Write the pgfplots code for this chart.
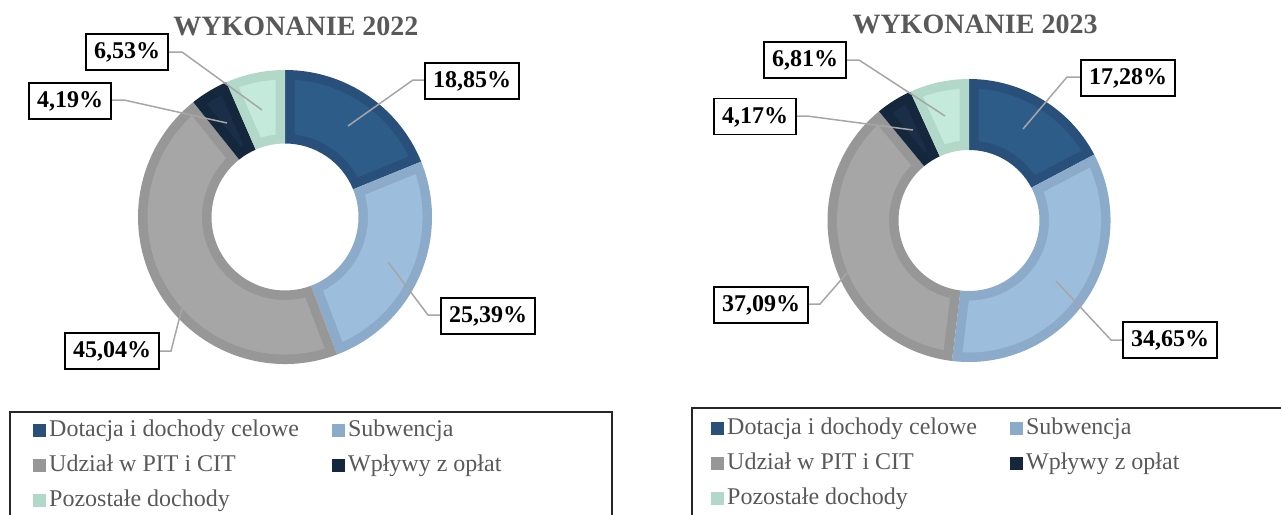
\documentclass[border=0pt]{standalone}
\usepackage{fontspec}
\setmainfont{Liberation Serif}
\usepackage{pgfplots}
\usepackage{pgfplotstable}
\pgfplotsset{compat=1.18}

\definecolor{dotA}{HTML}{2E5C89}\definecolor{dotB}{HTML}{29507A}
\definecolor{subA}{HTML}{9DBDDC}\definecolor{subB}{HTML}{8CAAC9}
\definecolor{pitA}{HTML}{A6A6A6}\definecolor{pitB}{HTML}{979797}
\definecolor{oplA}{HTML}{1B2E47}\definecolor{oplB}{HTML}{15273D}
\definecolor{pozA}{HTML}{C4EADB}\definecolor{pozB}{HTML}{B2D8C9}
\definecolor{txtgray}{HTML}{595959}
\definecolor{leader}{HTML}{A6A6A6}

% shares in percent, slice fill, slice border
\pgfplotstableread{
share fill border
18.85 dotA dotB
25.39 subA subB
45.04 pitA pitB
4.19  oplA oplB
6.53  pozA pozB
}\dochodyA
\pgfplotstableread{
share fill border
17.28 dotA dotB
34.65 subA subB
37.09 pitA pitB
4.17  oplA oplB
6.81  pozA pozB
}\dochodyB

\newcommand\lblfont{\fontsize{24pt}{28pt}\selectfont\bfseries}
\newcommand\titlefont{\fontsize{28pt}{32pt}\selectfont\bfseries}
\newcommand\legfont{\fontsize{24pt}{28pt}\selectfont}
\def\bw{9.5}

% start/end angles of each slice, clockwise from 12 o'clock
\newcommand\prepdonut[2]{%
  \pgfplotstablegetrowsof{#1}%
  \pgfmathtruncatemacro\lastrow{\pgfplotsretval-1}%
  \xdef\cumsum{0}%
  \foreach \i in {0,...,\lastrow}{%
    \pgfplotstablegetelem{\i}{share}\of{#1}%
    \pgfmathsetmacro\tmpS{90-3.6*\cumsum}%
    \pgfmathsetmacro\tmpC{\cumsum+\pgfplotsretval}%
    \pgfmathsetmacro\tmpE{90-3.6*\tmpC}%
    \xdef\cumsum{\tmpC}%
    \expandafter\xdef\csname #2S\i\endcsname{\tmpS}%
    \expandafter\xdef\csname #2E\i\endcsname{\tmpE}%
    \pgfplotstablegetelem{\i}{fill}\of{#1}%
    \expandafter\xdef\csname #2F\i\endcsname{\pgfplotsretval}%
    \pgfplotstablegetelem{\i}{border}\of{#1}%
    \expandafter\xdef\csname #2B\i\endcsname{\pgfplotsretval}%
  }}

% #1 tag, #2 row, #3 centre, #4 outer radius, #5 inner radius
\newcommand\drawslice[5]{%
  \edef\sA{\csname #1S#2\endcsname}%
  \edef\sE{\csname #1E#2\endcsname}%
  \edef\sF{\csname #1F#2\endcsname}%
  \edef\sB{\csname #1B#2\endcsname}%
  \fill[fill=\sB] ([shift={(\sA:#4pt)}]#3) arc[start angle=\sA, end angle=\sE, radius=#4pt]
    -- ([shift={(\sE:#5pt)}]#3) arc[start angle=\sE, end angle=\sA, radius=#5pt] -- cycle;
  \pgfmathsetmacro\Ro{#4-\bw}%
  \pgfmathsetmacro\Ri{#5+\bw}%
  \pgfmathsetmacro\oS{\sA-asin(\bw/\Ro)}%
  \pgfmathsetmacro\oE{\sE+asin(\bw/\Ro)}%
  \pgfmathsetmacro\iS{\sA-asin(\bw/\Ri)}%
  \pgfmathsetmacro\iE{\sE+asin(\bw/\Ri)}%
  \fill[fill=\sF] ([shift={(\oS:\Ro pt)}]#3) arc[start angle=\oS, end angle=\oE, radius=\Ro pt]
    -- ([shift={(\iE:\Ri pt)}]#3) arc[start angle=\iE, end angle=\iS, radius=\Ri pt] -- cycle;
}

\pgfplotsset{
  donut/.style={
    hide axis, clip=false, x=1pt, y=1pt, y dir=reverse, ymin=0, ymax=514,
    anchor=north west,
    legend columns=2,
    legend image code/.code={\path[##1,draw=none] (0pt,-6.5pt) rectangle (13pt,6.5pt);},
    legend style={draw=none, fill=none, inner sep=0pt, font=\legfont, text=txtgray,
      cells={anchor=west}, row sep=13pt,
      nodes={inner xsep=3pt, inner ysep=0pt, text height=17pt, text depth=5pt},
      /tikz/every even column/.append style={column sep=30pt}},
  },
}
\tikzset{
  lbl/.style={draw=black, line width=1.6pt, fill=white, font=\lblfont, inner xsep=8pt,
    minimum height=36pt, text height=17pt, text depth=4pt},
  ldr/.style={draw=leader, line width=1.5pt},
}

\prepdonut{\dochodyA}{A}
\prepdonut{\dochodyB}{B}

\begin{document}
\begin{tikzpicture}
\path[use as bounding box] (0,0) rectangle (1281pt,514pt);

\begin{axis}[donut, at={(0pt,514pt)}, xmin=0, xmax=640,
  legend style={at={(0.0516,0.1848)}, anchor=north west}]
  \pgfplotsextra{\drawslice{A}{0}{axis cs:285,217}{147}{73.5}%
    \drawslice{A}{1}{axis cs:285,217}{147}{73.5}%
    \drawslice{A}{2}{axis cs:285,217}{147}{73.5}%
    \drawslice{A}{3}{axis cs:285,217}{147}{73.5}%
    \drawslice{A}{4}{axis cs:285,217}{147}{73.5}}
  \node[font=\titlefont, text=txtgray] at (axis cs:296,26) {WYKONANIE 2022};
  \draw[ldr] (axis cs:348,126) -- (axis cs:413,80) -- (axis cs:425,80);
  \draw[ldr] (axis cs:388,262) -- (axis cs:428,315) -- (axis cs:441,315);
  \draw[ldr] (axis cs:182,308) -- (axis cs:171,351) -- (axis cs:160,351);
  \draw[ldr] (axis cs:227,123) -- (axis cs:124,100) -- (axis cs:112,100);
  \draw[ldr] (axis cs:262,110) -- (axis cs:182,52) -- (axis cs:169,52);
  \node[lbl] at (axis cs:472,81) {18,85\%};
  \node[lbl] at (axis cs:488,316) {25,39\%};
  \node[lbl] at (axis cs:112,351) {45,04\%};
  \node[lbl] at (axis cs:70,101) {4,19\%};
  \node[lbl] at (axis cs:127,52) {6,53\%};
  \draw[black!85, line width=1.5pt] (axis cs:10,560) -- (axis cs:10,412) -- (axis cs:612,412) -- (axis cs:612,560);
  \addlegendimage{fill=dotB}\addlegendentry{Dotacja i dochody celowe}
  \addlegendimage{fill=subB}\addlegendentry{Subwencja}
  \addlegendimage{fill=pitB}\addlegendentry{Udział w PIT i CIT}
  \addlegendimage{fill=oplB}\addlegendentry{Wpływy z opłat}
  \addlegendimage{fill=pozB}\addlegendentry{Pozostałe dochody}
\end{axis}

\begin{axis}[donut, at={(640pt,514pt)}, xmin=640, xmax=1281,
  legend style={at={(0.1108,0.1887)}, anchor=north west}]
  \pgfplotsextra{\drawslice{B}{0}{axis cs:969,220.5}{141.5}{70.5}%
    \drawslice{B}{1}{axis cs:969,220.5}{141.5}{70.5}%
    \drawslice{B}{2}{axis cs:969,220.5}{141.5}{70.5}%
    \drawslice{B}{3}{axis cs:969,220.5}{141.5}{70.5}%
    \drawslice{B}{4}{axis cs:969,220.5}{141.5}{70.5}}
  \node[font=\titlefont, text=txtgray] at (axis cs:975,24) {WYKONANIE 2023};
  \draw[ldr] (axis cs:1023,129) -- (axis cs:1067,77) -- (axis cs:1081,77);
  \draw[ldr] (axis cs:1056,281) -- (axis cs:1111,340) -- (axis cs:1123,340);
  \draw[ldr] (axis cs:847,273) -- (axis cs:820,304) -- (axis cs:808,304);
  \draw[ldr] (axis cs:913,130) -- (axis cs:807,116) -- (axis cs:796,116);
  \draw[ldr] (axis cs:945,116) -- (axis cs:859,60) -- (axis cs:846,60);
  \node[lbl] at (axis cs:1128,78) {17,28\%};
  \node[lbl] at (axis cs:1170,340) {34,65\%};
  \node[lbl] at (axis cs:761,305) {37,09\%};
  \node[lbl] at (axis cs:755,116.5) {4,17\%};
  \node[lbl] at (axis cs:805,60) {6,81\%};
  \draw[black!85, line width=1.5pt] (axis cs:692,560) -- (axis cs:692,408) -- (axis cs:1300,408);
  \addlegendimage{fill=dotB}\addlegendentry{Dotacja i dochody celowe}
  \addlegendimage{fill=subB}\addlegendentry{Subwencja}
  \addlegendimage{fill=pitB}\addlegendentry{Udział w PIT i CIT}
  \addlegendimage{fill=oplB}\addlegendentry{Wpływy z opłat}
  \addlegendimage{fill=pozB}\addlegendentry{Pozostałe dochody}
\end{axis}
\end{tikzpicture}
\end{document}
